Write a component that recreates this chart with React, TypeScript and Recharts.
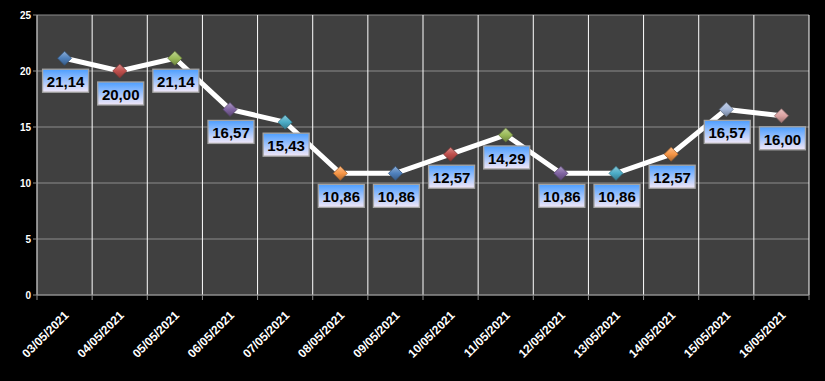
import { LineChart, Line, XAxis, YAxis, CartesianGrid, LabelList } from "recharts";

const dates = [
  "03/05/2021", "04/05/2021", "05/05/2021", "06/05/2021", "07/05/2021",
  "08/05/2021", "09/05/2021", "10/05/2021", "11/05/2021", "12/05/2021",
  "13/05/2021", "14/05/2021", "15/05/2021", "16/05/2021",
];
const values = [21.14, 20.0, 21.14, 16.57, 15.43, 10.86, 10.86, 12.57, 14.29, 10.86, 10.86, 12.57, 16.57, 16.0];
const markerColors = [
  "#4F81BD", "#C0504D", "#9BBB59", "#8064A2", "#4BACC6", "#F79646",
  "#4F81BD", "#C0504D", "#9BBB59", "#8064A2", "#4BACC6", "#F79646",
  "#A5B8DA", "#DCA3A2",
];
const yTicks = [0, 5, 10, 15, 20, 25];

// points sit in the middle of each day's band; grid lines sit on the band edges
const data = values.map((value, i) => ({ pos: i + 0.5, value, date: dates[i] }));
const labelTicks = data.map((d) => d.pos);
const gridTicks = [...dates.map((_, i) => i), dates.length];

const FONT = "'Liberation Sans', Arial, sans-serif";

function shade(hex: string, amt: number) {
  const n = parseInt(hex.slice(1), 16);
  const mix = (c: number) => Math.round(amt >= 0 ? c + (255 - c) * amt : c * (1 + amt));
  const r = mix((n >> 16) & 255);
  const g = mix((n >> 8) & 255);
  const b = mix(n & 255);
  return `rgb(${r},${g},${b})`;
}

function Diamond(props: any) {
  const { cx, cy, index } = props;
  if (cx == null || cy == null) return null;
  const s = 7;
  const c = markerColors[index];
  return (
    <g>
      <polygon
        points={`${cx},${cy - s} ${cx + s},${cy} ${cx},${cy + s} ${cx - s},${cy}`}
        fill={`url(#mk${index})`}
        stroke={shade(c, -0.35)}
        strokeWidth={0.8}
      />
    </g>
  );
}

function ValueBox(props: any) {
  const { x, y, value } = props;
  const w = 46;
  const h = 23;
  const txt = Number(value).toFixed(2).replace(".", ",");
  return (
    <g>
      <rect x={x - w / 2 + 1} y={y + 11} width={w} height={h} fill="url(#boxGrad)" stroke="#a3a3a3" strokeWidth={1.3} />
      <text x={x + 1} y={y + 29} textAnchor="middle" fontFamily={FONT} fontWeight="bold" fontSize={15} fill="#000">
        {txt}
      </text>
    </g>
  );
}

function DateTick(props: any) {
  const { x, y, payload } = props;
  const d = data.find((p) => p.pos === payload.value);
  const ax = x + 5;
  const ay = y + 12;
  return (
    <text
      x={ax}
      y={ay}
      transform={`rotate(-45, ${ax}, ${ay})`}
      textAnchor="end"
      fontFamily={FONT}
      fontWeight="bold"
      fontSize={12}
      fill="#fff"
    >
      {d ? d.date : ""}
    </text>
  );
}

export default function App() {
  return (
    <div style={{ width: 825, height: 381, background: "#000" }}>
      <style>{`body{margin:0}`}</style>
      <LineChart width={825} height={381} data={data} margin={{ top: 15, right: 16, left: 0, bottom: 0 }}>
        <defs>
          {markerColors.map((c, i) => (
            <linearGradient key={i} id={`mk${i}`} x1="0" y1="0" x2="0" y2="1">
              <stop offset="0%" stopColor={shade(c, 0.35)} />
              <stop offset="50%" stopColor={c} />
              <stop offset="100%" stopColor={shade(c, -0.3)} />
            </linearGradient>
          ))}
          <linearGradient id="boxGrad" x1="0" y1="0" x2="0" y2="1">
            <stop offset="0%" stopColor="#4C9EFF" />
            <stop offset="100%" stopColor="#F3E8F8" />
          </linearGradient>
        </defs>
        <CartesianGrid xAxisId="grid" vertical={false} fill="#404040" stroke="#8c8c8c" />
        <CartesianGrid xAxisId="grid" horizontal={false} stroke="#ffffff" />
        <XAxis
          xAxisId="grid"
          type="number"
          dataKey="pos"
          domain={[0, dates.length]}
          ticks={gridTicks}
          tickFormatter={() => ""}
          height={1}
          axisLine={{ stroke: "#8c8c8c" }}
          tickLine={{ stroke: "#8c8c8c" }}
          tickSize={5}
        />
        <XAxis
          xAxisId="labels"
          type="number"
          dataKey="pos"
          domain={[0, dates.length]}
          ticks={labelTicks}
          interval={0}
          height={85}
          axisLine={false}
          tickLine={false}
          tick={<DateTick />}
        />
        <YAxis
          domain={[0, 25]}
          ticks={yTicks}
          width={37}
          axisLine={{ stroke: "#8c8c8c" }}
          tickLine={{ stroke: "#8c8c8c" }}
          tickSize={4}
          tick={{ fill: "#fff", fontFamily: FONT, fontWeight: "bold", fontSize: 10 }}
        />
        <Line
          xAxisId="labels"
          type="linear"
          dataKey="value"
          stroke="#fff"
          strokeWidth={5}
          dot={<Diamond />}
          activeDot={false}
          isAnimationActive={false}
        >
          <LabelList dataKey="value" content={<ValueBox />} />
        </Line>
      </LineChart>
    </div>
  );
}
